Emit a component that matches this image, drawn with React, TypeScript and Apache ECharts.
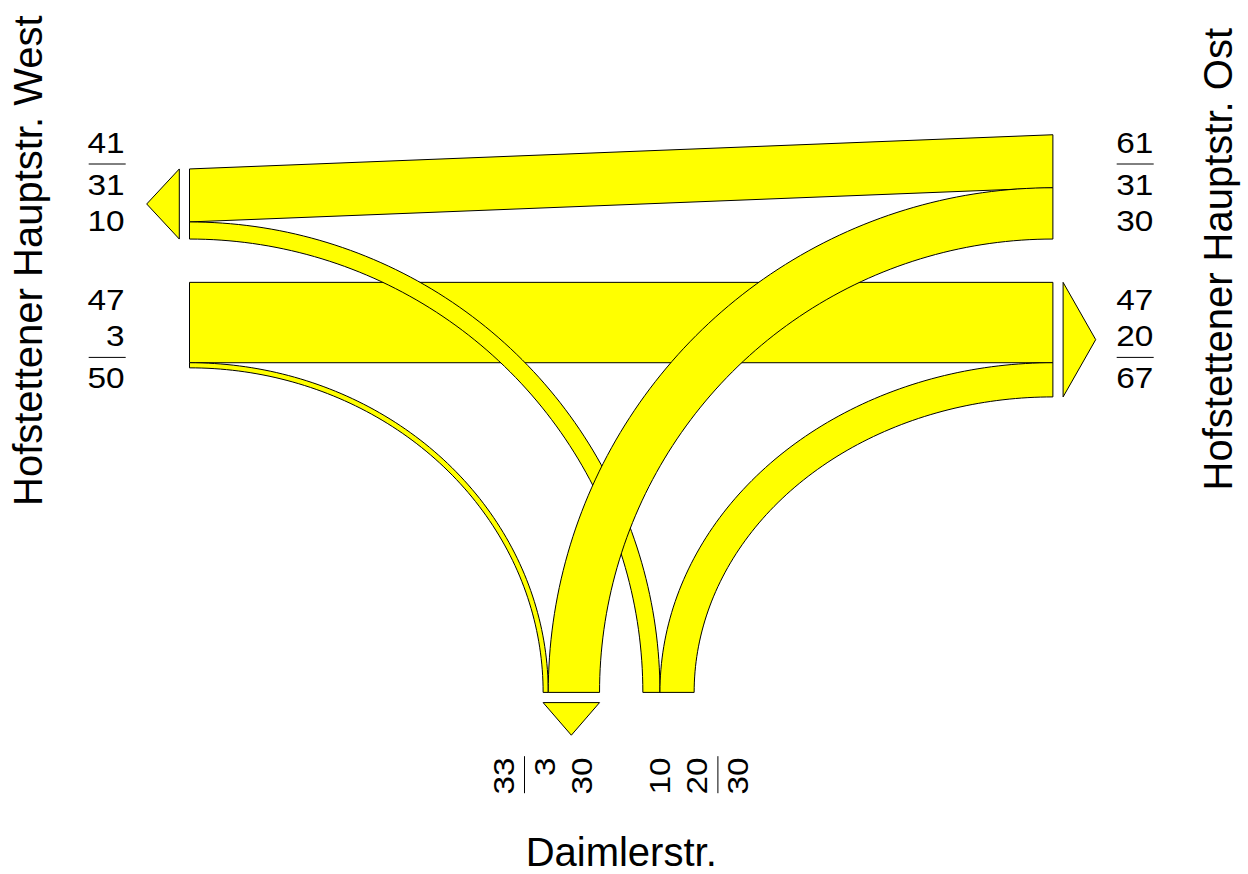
import React, { useEffect, useRef } from "react";
import * as echarts from "echarts";

// ---------- data ----------
const armKeys = ["West", "Ost", "Süd"];
const armTitles = ["Hofstettener Hauptstr. West", "Hofstettener Hauptstr. Ost", "Daimlerstr."];

const flowFrom = ["West", "West", "Ost", "Ost", "Süd", "Süd"];
const flowTo = ["Ost", "Süd", "West", "Süd", "West", "Ost"];
const flowCount = [47, 3, 31, 30, 10, 20];

// order of the bands at every arm, from the central gap outward (indices into the flow arrays)
const westOutOrder = [4, 2];
const westInOrder = [0, 1];
const eastInOrder = [3, 2];
const eastOutOrder = [0, 5];
const southOutOrder = [3, 1];
const southInOrder = [4, 5];

// drawing order of the bands (later on top)
const drawOrder = [2, 0, 1, 4, 5, 3];

// ---------- layout (px, relative to the junction centre) ----------
const CX = 621.2;
const CY = 260.7;
const W = 1248;
const H = 874;
const K = 1.71; // px per vehicle
const ARM = 431.7;
const GAP = 21.65;
const ARROW_GAP = 10.2;
const ARROW_LEN = 32.6;
const LBL_FIRST = 39.4;
const LBL_PITCH = 36.3;
const RULE_GAP = 21;
const TOTAL_GAP = 20.7;
const LBL_W = -496.7;
const LBL_E = 495.0;
const LBL_S = 496.8;
const RULE_IN = 495.5;
const RULE_OUT = 532.5;
const LBL_SIZE = 29;
const LBL_STRETCH = 1.15;
const TITLE_SIZE = 40;
const FONT = '"Liberation Sans", Arial, Helvetica, sans-serif';
const FILL = "#ffff00";

type Seg = [number, number];

function blockSegs(order: number[], sign: number): Record<number, Seg> {
  const res: Record<number, Seg> = {};
  let cum = 0;
  for (const fi of order) {
    const a = sign * (GAP + cum * K);
    const b = sign * (GAP + (cum + flowCount[fi]) * K);
    res[fi] = [Math.min(a, b), Math.max(a, b)];
    cum += flowCount[fi];
  }
  return res;
}

const srcSeg: Record<number, Seg> = {
  ...blockSegs(westInOrder, 1),
  ...blockSegs(eastInOrder, -1),
  ...blockSegs(southInOrder, 1),
};
const dstSeg: Record<number, Seg> = {
  ...blockSegs(westOutOrder, -1),
  ...blockSegs(eastOutOrder, 1),
  ...blockSegs(southOutOrder, -1),
};

const sum = (order: number[]) => order.reduce((s, i) => s + flowCount[i], 0);

function flowPoints(i: number): number[][] {
  const f = flowFrom[i];
  const t = flowTo[i];
  const s = srcSeg[i];
  const d = dstSeg[i];
  if (f !== "Süd" && t !== "Süd") {
    const xf = f === "West" ? -ARM : ARM;
    const xt = t === "West" ? -ARM : ARM;
    return [
      [xf, s[0]],
      [xt, d[0]],
      [xt, d[1]],
      [xf, s[1]],
    ];
  }
  const horiz = f === "Süd" ? t : f;
  const hSeg = f === "Süd" ? d : s;
  const sSeg = f === "Süd" ? s : d;
  const Hx = horiz === "West" ? -ARM : ARM;
  const B = ARM;
  const dir = horiz === "West" ? 1 : -1;
  const far = dir > 0 ? sSeg[1] : sSeg[0];
  const near = dir > 0 ? sSeg[0] : sSeg[1];
  const N = 90;
  const pts: number[][] = [];
  for (let k = 0; k <= N; k++) {
    const th = (k / N) * (Math.PI / 2);
    pts.push([Hx + dir * Math.abs(far - Hx) * Math.sin(th), B - (B - hSeg[0]) * Math.cos(th)]);
  }
  for (let k = N; k >= 0; k--) {
    const th = (k / N) * (Math.PI / 2);
    pts.push([Hx + dir * Math.abs(near - Hx) * Math.sin(th), B - (B - hSeg[1]) * Math.cos(th)]);
  }
  return pts;
}

const polyStyle = { fill: FILL, stroke: "#000000", lineWidth: 1 };

function renderFlow(params: any, api: any) {
  const i = api.value(0);
  const pts = flowPoints(i).map((p) => api.coord(p));
  return { type: "polygon", shape: { points: pts }, style: polyStyle };
}

function renderArrow(params: any, api: any) {
  const a = armKeys[api.value(0)];
  let pts: number[][];
  if (a === "West") {
    const y0 = -(GAP + sum(westOutOrder) * K);
    const y1 = -GAP;
    const base = -ARM - ARROW_GAP;
    pts = [[base, y0], [base, y1], [base - ARROW_LEN, (y0 + y1) / 2]];
  } else if (a === "Ost") {
    const y0 = GAP;
    const y1 = GAP + sum(eastOutOrder) * K;
    const base = ARM + ARROW_GAP;
    pts = [[base, y0], [base, y1], [base + ARROW_LEN, (y0 + y1) / 2]];
  } else {
    const x0 = -(GAP + sum(southOutOrder) * K);
    const x1 = -GAP;
    const base = ARM + ARROW_GAP;
    pts = [[x0, base], [x1, base], [(x0 + x1) / 2, base + ARROW_LEN]];
  }
  return { type: "polygon", shape: { points: pts.map((p) => api.coord(p)) }, style: polyStyle };
}

function textEl(api: any, p: number[], text: string, align: string, rot: number, size: number, stretch: number) {
  const c = api.coord(p);
  return {
    type: "text",
    x: c[0],
    y: c[1],
    rotation: rot,
    scaleX: stretch,
    style: {
      text,
      fill: "#000000",
      fontSize: size,
      fontFamily: FONT,
      align,
      verticalAlign: "middle",
    },
  };
}

function lineEl(api: any, p1: number[], p2: number[]) {
  const a = api.coord(p1);
  const b = api.coord(p2);
  return {
    type: "line",
    shape: { x1: a[0], y1: a[1], x2: b[0], y2: b[1] },
    style: { stroke: "#000000", lineWidth: 1 },
  };
}

function renderLabels(params: any, api: any) {
  const idx = api.value(0);
  const a = armKeys[idx];
  const children: any[] = [];
  const blocks: { order: number[]; sign: number }[] =
    a === "West"
      ? [{ order: westOutOrder, sign: -1 }, { order: westInOrder, sign: 1 }]
      : a === "Ost"
      ? [{ order: eastInOrder, sign: -1 }, { order: eastOutOrder, sign: 1 }]
      : [{ order: southOutOrder, sign: -1 }, { order: southInOrder, sign: 1 }];
  for (const b of blocks) {
    const n = b.order.length;
    const ruleOff = b.sign * (LBL_FIRST + (n - 1) * LBL_PITCH + RULE_GAP);
    const totOff = b.sign * (LBL_FIRST + (n - 1) * LBL_PITCH + RULE_GAP + TOTAL_GAP);
    const items: { off: number; text: string }[] = b.order.map((fi, k) => ({
      off: b.sign * (LBL_FIRST + k * LBL_PITCH),
      text: String(flowCount[fi]),
    }));
    items.push({ off: totOff, text: String(sum(b.order)) });
    for (const it of items) {
      if (a === "West") children.push(textEl(api, [LBL_W, it.off], it.text, "right", 0, LBL_SIZE, LBL_STRETCH));
      else if (a === "Ost") children.push(textEl(api, [LBL_E, it.off], it.text, "left", 0, LBL_SIZE, LBL_STRETCH));
      else children.push(textEl(api, [it.off, LBL_S], it.text, "right", Math.PI / 2, LBL_SIZE, LBL_STRETCH));
    }
    if (a === "West") children.push(lineEl(api, [-RULE_OUT, ruleOff], [-RULE_IN, ruleOff]));
    else if (a === "Ost") children.push(lineEl(api, [RULE_IN, ruleOff], [RULE_OUT, ruleOff]));
    else children.push(lineEl(api, [ruleOff, RULE_IN], [ruleOff, RULE_OUT]));
  }
  // arm title
  if (a === "West") children.push(textEl(api, [-593.5, 0], armTitles[idx], "center", Math.PI / 2, TITLE_SIZE, 1));
  else if (a === "Ost") children.push(textEl(api, [596.3, -1.5], armTitles[idx], "center", Math.PI / 2, TITLE_SIZE, 1));
  else children.push(textEl(api, [0, 591], armTitles[idx], "center", 0, TITLE_SIZE, 1));
  return { type: "group", children };
}

const option = {
  animation: false,
  backgroundColor: "#ffffff",
  grid: { left: 0, right: 0, top: 0, bottom: 0 },
  xAxis: { type: "value", min: -CX, max: W - CX, show: false },
  yAxis: { type: "value", inverse: true, min: -CY, max: H - CY, show: false },
  series: [
    {
      type: "custom",
      name: "Ströme",
      coordinateSystem: "cartesian2d",
      silent: true,
      data: drawOrder.map((i) => [i, flowCount[i]]),
      renderItem: renderFlow,
    },
    {
      type: "custom",
      name: "Pfeile",
      coordinateSystem: "cartesian2d",
      silent: true,
      data: armKeys.map((_, i) => [i, 0]),
      renderItem: renderArrow,
    },
    {
      type: "custom",
      name: "Beschriftung",
      coordinateSystem: "cartesian2d",
      silent: true,
      data: armKeys.map((_, i) => [i, 0]),
      renderItem: renderLabels,
    },
  ],
};

export default function App() {
  const ref = useRef<HTMLDivElement>(null);
  useEffect(() => {
    const chart = echarts.init(ref.current!, null, { renderer: "svg" });
    chart.setOption(option as any);
    return () => chart.dispose();
  }, []);
  return (
    <div
      ref={ref}
      style={{ position: "fixed", left: 0, top: 0, width: W, height: H, background: "#ffffff" }}
    />
  );
}
